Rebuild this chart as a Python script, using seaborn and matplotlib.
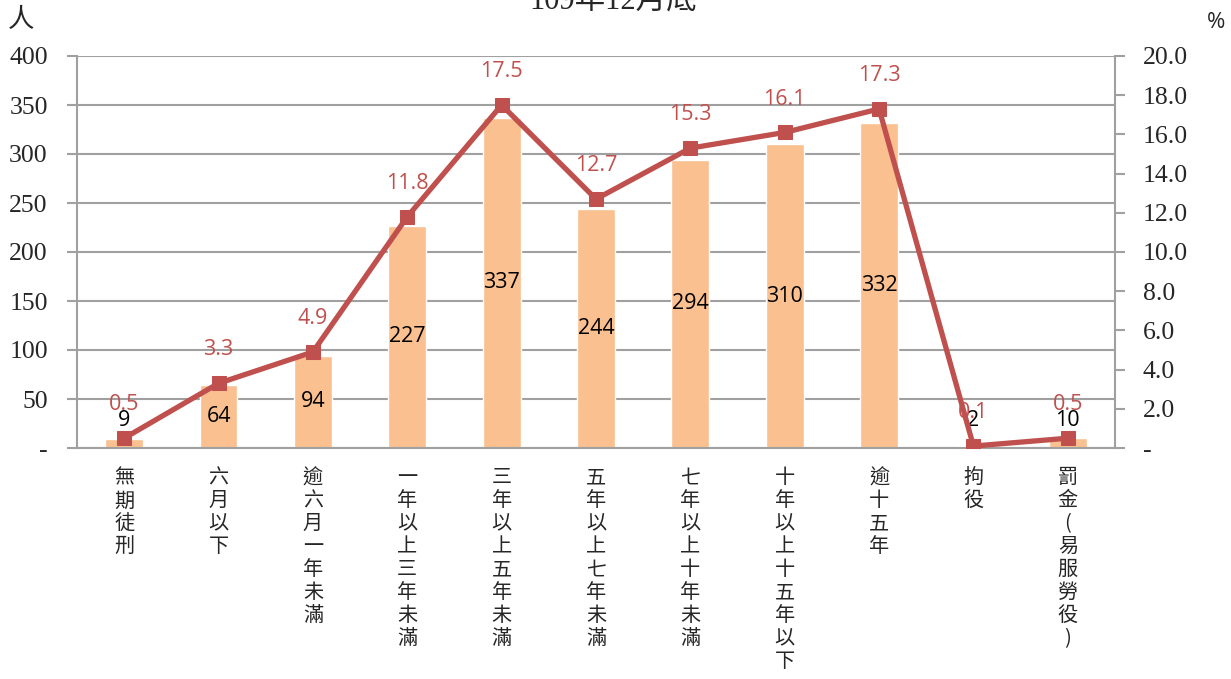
import matplotlib
matplotlib.use("Agg")
import matplotlib.pyplot as plt
import seaborn as sns
import pandas as pd

# 資料
categories = ["無期徒刑", "六月以下", "逾六月一年未滿", "一年以上三年未滿", "三年以上五年未滿",
              "五年以上七年未滿", "七年以上十年未滿", "十年以上十五年以下", "逾十五年", "拘役", "罰金(易服勞役)"]
counts = [9, 64, 94, 227, 337, 244, 294, 310, 332, 2, 10]
percents = [0.5, 3.3, 4.9, 11.8, 17.5, 12.7, 15.3, 16.1, 17.3, 0.1, 0.5]
title = "109年12月底"

bar_color = "#FAC090"
line_color = "#C0504D"
grid_color = "#A0A0A0"
cjk = ["Noto Sans CJK TC", "DejaVu Sans"]
serif = ["Liberation Serif", "Noto Sans CJK TC"]
sans = ["Open Sans", "DejaVu Sans"]

sns.set_theme(style="white")
plt.rcParams["font.family"] = cjk

df = pd.DataFrame({"類別": categories, "人數": counts, "百分比": percents})

fig = plt.figure(figsize=(12.31, 6.79), dpi=100)
ax = fig.add_axes([77 / 1231, 1 - 448 / 679, (1115 - 77) / 1231, (448 - 56) / 679])

sns.barplot(data=df, x="類別", y="人數", color=bar_color, width=0.4, ax=ax,
            saturation=1, zorder=2)
ax.set_ylim(0, 400)
ax.set_xlim(-0.5, len(categories) - 0.5)
ax.set_yticks(range(0, 401, 50))
ax.set_yticklabels(["-"] + [str(v) for v in range(50, 401, 50)], family=serif, fontsize=18.5)
ax.yaxis.grid(True, color=grid_color, linewidth=1.5, zorder=0)
ax.set_axisbelow(True)
ax.set_xlabel("")
ax.set_ylabel("")

# 縱向類別標籤
ax.set_xticks(range(len(categories)))
ax.set_xticklabels(["\n".join(c) for c in categories], fontsize=14.5, va="top",
                   linespacing=1.12)
ax.set_xticks([i - 0.5 for i in range(len(categories) + 1)], minor=True)
ax.tick_params(axis="x", which="major", length=0, pad=14)
ax.tick_params(axis="x", which="minor", length=7, width=1.5, color=grid_color, direction="out")
ax.tick_params(axis="y", length=7, width=1.5, color=grid_color, direction="out", pad=14)

for side in ["top", "right"]:
    ax.spines[side].set_visible(False)
for side in ["left", "bottom"]:
    ax.spines[side].set_color(grid_color)
    ax.spines[side].set_linewidth(1.5)

for i, v in enumerate(counts):
    ax.text(i, max(v / 2, 28), str(v), ha="center", va="center", fontsize=15.5,
            family=sans, color="black", zorder=5)

# 百分比折線
ax2 = ax.twinx()
sns.lineplot(x=list(range(len(categories))), y=percents, ax=ax2, color=line_color,
             linewidth=3.8, marker="s", markersize=10, markeredgecolor=line_color, zorder=4)
ax2.set_ylim(0, 20)
ax2.set_yticks(range(0, 21, 2))
ax2.set_yticklabels(["-"] + [f"{v:.1f}" for v in range(2, 21, 2)], family=serif, fontsize=18.5)
ax2.tick_params(axis="y", length=7, width=1.5, color=grid_color, direction="out", pad=13)
for side in ["top", "left", "bottom"]:
    ax2.spines[side].set_visible(False)
ax2.spines["right"].set_color(grid_color)
ax2.spines["right"].set_linewidth(1.5)
ax2.grid(False)

for i, p in enumerate(percents):
    ax2.annotate(f"{p:.1f}", (i, p), xytext=(0, 24), textcoords="offset points",
                 ha="center", va="center", fontsize=15.5, color=line_color, family=sans)

fig.text(21 / 1231, 1 - 20 / 679, "人", fontsize=19, family=serif, ha="center", va="center")
fig.text(1216 / 1231, 1 - 22 / 679, "%", fontsize=16, family=sans, ha="center", va="center")
fig.text(613 / 1231, 1 - 1 / 679, title, fontsize=22, family=serif, ha="center", va="center")

fig.savefig("out.png", dpi=100)
